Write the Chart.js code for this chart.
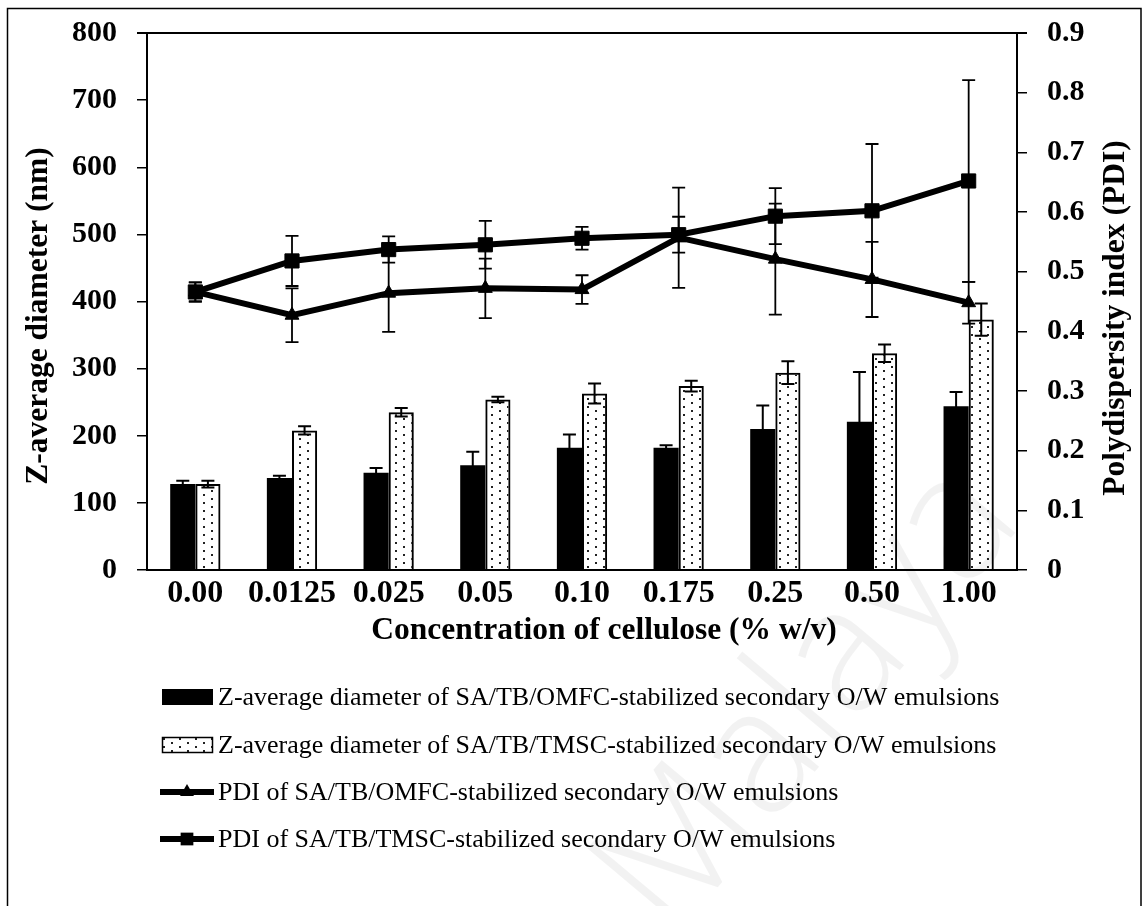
<!DOCTYPE html>
<html>
<head>
<meta charset="utf-8">
<script src="https://cdn.jsdelivr.net/npm/chart.js@4.4.1/dist/chart.umd.min.js"></script>
<style>
  html, body { margin: 0; padding: 0; background: #fff; }
</style>
</head>
<body>
<canvas id="mycanvas" width="1143" height="906"></canvas>
<script>
var concentrations = ['0.00', '0.0125', '0.025', '0.05', '0.10', '0.175', '0.25', '0.50', '1.00'];

// Z-average diameter (nm) and standard deviation
var omfcSize   = [128, 137, 145, 156, 182, 182, 210, 221, 244];
var omfcSizeSd = [5, 3.5, 7, 20, 20, 4, 35, 74, 21];
var tmscSize   = [128, 208, 235, 254, 263, 274, 294, 323, 373];
var tmscSizeSd = [5, 6, 6.5, 4, 15, 8, 17, 13, 24];

// polydispersity index and standard deviation
var omfcPdi   = [0.466, 0.427, 0.464, 0.472, 0.470, 0.557, 0.521, 0.487, 0.448];
var omfcPdiSd = [0.016, 0.045, 0.065, 0.05, 0.024, 0.084, 0.093, 0.063, 0.035];
var tmscPdi   = [0.466, 0.518, 0.537, 0.545, 0.556, 0.562, 0.593, 0.602, 0.652];
var tmscPdiSd = [0.016, 0.042, 0.022, 0.04, 0.019, 0.03, 0.047, 0.112, 0.169];

var seriesNames = [
  'Z-average diameter of SA/TB/OMFC-stabilized secondary O/W emulsions',
  'Z-average diameter of SA/TB/TMSC-stabilized secondary O/W emulsions',
  'PDI of SA/TB/OMFC-stabilized secondary O/W emulsions',
  'PDI of SA/TB/TMSC-stabilized secondary O/W emulsions'
];

var serif = '"Liberation Serif", "Times New Roman", serif';
Chart.defaults.font.family = serif;
Chart.defaults.color = '#000';

var ctx = document.getElementById('mycanvas').getContext('2d');

// dotted fill for the TMSC bars
function dotPattern() {
  var c = document.createElement('canvas');
  c.width = 16; c.height = 8;
  var g = c.getContext('2d');
  g.fillStyle = '#222';
  g.fillRect(3, 2, 2, 2);
  g.fillRect(11, 6, 2, 2);
  return ctx.createPattern(c, 'repeat');
}
var dots = dotPattern();

function drawMarker(g, style, x, y, r) {
  g.beginPath();
  if (style === 'triangle') {
    g.moveTo(x, y - r);
    g.lineTo(x + r * 0.866, y + r * 0.5);
    g.lineTo(x - r * 0.866, y + r * 0.5);
    g.closePath();
  } else {
    var s = r * Math.SQRT1_2;
    g.rect(x - s, y - s, 2 * s, 2 * s);
  }
  g.fill();
}

// keep the plot box where it is, whatever the label overhang
function noOverhang(scale) {
  scale.paddingTop = 0;
  scale.paddingBottom = 0;
}

var errorBars = {
  id: 'errorBars',
  afterDatasetDraw: function(chart, args) {
    var ds = chart.data.datasets[args.index];
    if (!ds.sd) return;
    var meta = args.meta;
    var scale = chart.scales[meta.yAxisID];
    var g = chart.ctx;
    g.save();
    g.strokeStyle = '#000';
    g.lineWidth = ds.type === 'line' ? 1.8 : 2;
    meta.data.forEach(function(el, i) {
      var v = ds.data[i], e = ds.sd[i];
      var top = scale.getPixelForValue(v + e);
      var bot = scale.getPixelForValue(v - e);
      g.beginPath();
      g.moveTo(el.x, top); g.lineTo(el.x, bot);
      g.moveTo(el.x - 6.5, top); g.lineTo(el.x + 6.5, top);
      g.moveTo(el.x - 6.5, bot); g.lineTo(el.x + 6.5, bot);
      g.stroke();
    });
    g.restore();
  }
};

var decorations = {
  id: 'decorations',
  beforeDraw: function(chart) {
    var g = chart.ctx;
    g.save();
    g.fillStyle = '#fff';
    g.fillRect(0, 0, chart.width, chart.height);
    g.restore();
  },
  beforeDatasetsDraw: function(chart) {
    // faint watermark
    var g = chart.ctx;
    g.save();
    g.translate(810, 700);
    g.rotate(-50 * Math.PI / 180);
    g.font = '300 175px "Open Sans", sans-serif';
    g.fillStyle = 'rgba(0,0,0,0.05)';
    g.textAlign = 'center';
    g.textBaseline = 'middle';
    g.fillText('Malaya', 0, 0);
    g.restore();
  },
  afterDraw: function(chart) {
    var g = chart.ctx;
    var area = chart.chartArea;
    g.save();
    // outer frame
    g.strokeStyle = '#000';
    g.lineWidth = 1.5;
    g.strokeRect(7.5, 8.5, 1133.5, 1000);
    // top edge of the plot
    g.lineWidth = 2;
    g.beginPath();
    g.moveTo(area.left - 10, area.top);
    g.lineTo(area.right + 10, area.top);
    g.stroke();

    // axis titles
    g.fillStyle = '#000';
    g.font = 'bold 31.5px ' + serif;
    g.textAlign = 'center';
    g.textBaseline = 'middle';
    g.fillText('Concentration of cellulose (% w/v)', 604, 631);
    g.save();
    g.translate(39, 316);
    g.rotate(-Math.PI / 2);
    g.fillText('Z-average diameter (nm)', 0, 0);
    g.restore();
    g.save();
    g.translate(1116, 318);
    g.rotate(-Math.PI / 2);
    g.fillText('Polydispersity index (PDI)', 0, 0);
    g.restore();

    // legend
    var rows = [697, 745, 792, 839];
    g.font = '26px ' + serif;
    g.textAlign = 'left';
    chart.data.datasets.forEach(function(ds, i) {
      var y = rows[i];
      if (ds.type === 'bar') {
        g.fillStyle = ds.backgroundColor;
        g.fillRect(162, y - 8, 51, 16);
        if (ds.borderWidth) {
          g.lineWidth = 1.5;
          g.strokeRect(162.5, y - 7.5, 50, 15);
        }
      } else {
        g.lineWidth = 6;
        g.beginPath();
        g.moveTo(160, y); g.lineTo(214, y);
        g.stroke();
        g.fillStyle = '#000';
        drawMarker(g, ds.pointStyle, 187, y, ds.pointStyle === 'triangle' ? 8 : 9);
      }
      g.fillStyle = '#000';
      g.fillText(ds.label, 218, y + 1);
    });
    g.restore();
  }
};

var chart = new Chart(ctx, {
  data: {
    labels: concentrations,
    datasets: [
      {
        type: 'bar', label: seriesNames[0], data: omfcSize, sd: omfcSizeSd,
        yAxisID: 'y', order: 2,
        backgroundColor: '#000', borderWidth: 0
      },
      {
        type: 'bar', label: seriesNames[1], data: tmscSize, sd: tmscSizeSd,
        yAxisID: 'y', order: 2,
        backgroundColor: dots, borderColor: '#000', borderWidth: 2
      },
      {
        type: 'line', label: seriesNames[2], data: omfcPdi, sd: omfcPdiSd,
        yAxisID: 'y1', order: 1,
        borderColor: '#000', borderWidth: 6, tension: 0,
        pointStyle: 'triangle', pointRadius: 8, pointBackgroundColor: '#000',
        pointBorderColor: '#000', pointBorderWidth: 1
      },
      {
        type: 'line', label: seriesNames[3], data: tmscPdi, sd: tmscPdiSd,
        yAxisID: 'y1', order: 0,
        borderColor: '#000', borderWidth: 6, tension: 0,
        pointStyle: 'rect', pointRadius: 10, pointBackgroundColor: '#000',
        pointBorderColor: '#000', pointBorderWidth: 1
      }
    ]
  },
  options: {
    responsive: false,
    animation: false,
    layout: { padding: { top: 33, left: 0, right: 0, bottom: 0 } },
    datasets: {
      bar: { barPercentage: 1.0, categoryPercentage: 0.52 }
    },
    plugins: {
      legend: { display: false },
      tooltip: { enabled: false }
    },
    scales: {
      x: {
        grid: { display: false },
        border: { display: true, color: '#000', width: 2 },
        ticks: {
          autoSkip: false, maxRotation: 0, padding: -3,
          font: { size: 32, weight: 'bold' }
        },
        afterFit: function(scale) {
          scale.height = 336;
          scale.paddingLeft = 0;
          scale.paddingRight = 0;
        }
      },
      y: {
        position: 'left', min: 0, max: 800,
        grid: { drawOnChartArea: false, color: '#000', lineWidth: 1.5, tickLength: 10 },
        border: { display: true, color: '#000', width: 2 },
        ticks: { stepSize: 100, padding: 20, font: { size: 30, weight: 'bold' } },
        afterFit: function(scale) { scale.width = 147; noOverhang(scale); }
      },
      y1: {
        position: 'right', min: 0, max: 0.9,
        grid: { drawOnChartArea: false, color: '#000', lineWidth: 1.5, tickLength: 10 },
        border: { display: true, color: '#000', width: 2 },
        ticks: {
          stepSize: 0.1, padding: 20, font: { size: 30, weight: 'bold' },
          callback: function(v) { return v === 0 ? '0' : v.toFixed(1); }
        },
        afterFit: function(scale) { scale.width = 126; noOverhang(scale); }
      }
    }
  },
  plugins: [errorBars, decorations]
});
</script>
</body>
</html>
